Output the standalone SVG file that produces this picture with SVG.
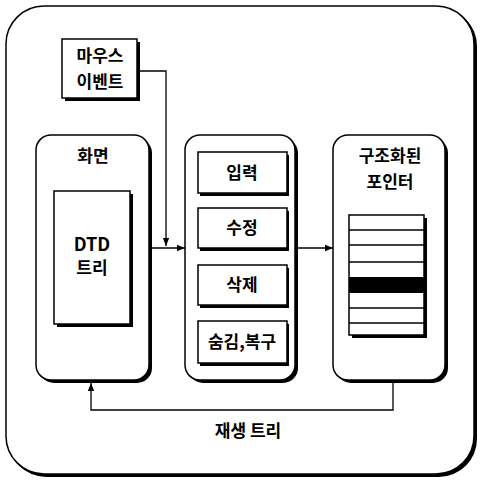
<svg xmlns="http://www.w3.org/2000/svg" width="481" height="480" viewBox="0 0 481 480">
<style>
.box{fill:#fff;stroke:#000;stroke-width:1.5}
.sh{fill:#000}
.t{font-family:"Noto Sans CJK KR","Noto Sans",sans-serif;font-weight:bold;font-size:17px;text-anchor:middle;fill:#000}
.ln{fill:none;stroke:#000;stroke-width:1.3}
</style>
<defs>
<marker id="ah" viewBox="0 0 10 10" refX="10" refY="5" markerWidth="8" markerHeight="8" markerUnits="userSpaceOnUse" orient="auto">
<path d="M0,1 L10,5 L0,9 Z" fill="#000"/>
</marker>
</defs>
<g id="frame">
<rect class="sh" x="8" y="8" width="469" height="469" rx="38"/>
<rect class="box" x="6" y="6" width="468" height="468" rx="38"/>
</g>
<g id="mouse">
<rect class="sh" x="65" y="42" width="75" height="59"/>
<rect class="box" x="62" y="39" width="75" height="59"/>
<text class="t" x="100" y="62">마우스</text>
<text class="t" x="100" y="88">이벤트</text>
</g>
<g id="screen">
<rect class="sh" x="39" y="138" width="113" height="245" rx="15"/>
<rect class="box" x="36" y="135" width="113" height="245" rx="15"/>
<text class="t" x="93" y="162">화면</text>
<g id="dtd">
<rect class="sh" x="57" y="194" width="76" height="133"/>
<rect class="box" x="54" y="191" width="76" height="133"/>
<text class="t" x="92" y="251" style="font-size:18px">DTD</text>
<text class="t" x="92" y="274">트리</text>
</g>
</g>
<g id="ops">
<rect class="sh" x="188" y="138" width="110" height="245" rx="15"/>
<rect class="box" x="185" y="135" width="110" height="245" rx="15"/>
<g id="op1"><rect class="sh" x="200" y="155" width="89" height="41"/><rect class="box" x="198" y="152" width="89" height="41"/><text class="t" x="242" y="179">입력</text></g>
<g id="op2"><rect class="sh" x="200" y="211" width="89" height="40"/><rect class="box" x="198" y="208" width="89" height="40"/><text class="t" x="242" y="234">수정</text></g>
<g id="op3"><rect class="sh" x="200" y="268" width="89" height="40"/><rect class="box" x="198" y="265" width="89" height="40"/><text class="t" x="242" y="291">삭제</text></g>
<g id="op4"><rect class="sh" x="200" y="324" width="89" height="42"/><rect class="box" x="198" y="321" width="89" height="42"/><text class="t" x="242" y="348">숨김,복구</text></g>
</g>
<g id="pointer">
<rect class="sh" x="336" y="138" width="112" height="245" rx="15"/>
<rect class="box" x="333" y="135" width="112" height="245" rx="15"/>
<text class="t" x="390" y="162">구조화된</text>
<text class="t" x="390" y="188">포인터</text>
<g id="list">
<rect class="sh" x="352" y="218" width="75" height="120"/>
<rect class="box" x="349" y="215" width="75" height="120"/>
<rect x="349" y="277" width="75" height="16" fill="#000"/>
<path class="ln" d="M349,230H424M349,245H424M349,262H424M349,308H424M349,323H424"/>
</g>
</g>
<g id="connectors">
<path class="ln" d="M137,71H166V246" marker-end="url(#ah)"/>
<path class="ln" d="M152,248H185" marker-end="url(#ah)"/>
<path class="ln" d="M298,248H333" marker-end="url(#ah)"/>
<path class="ln" d="M393,383V410H91V383" marker-end="url(#ah)"/>
<text class="t" x="248" y="437">재생 트리</text>
</g>
</svg>
